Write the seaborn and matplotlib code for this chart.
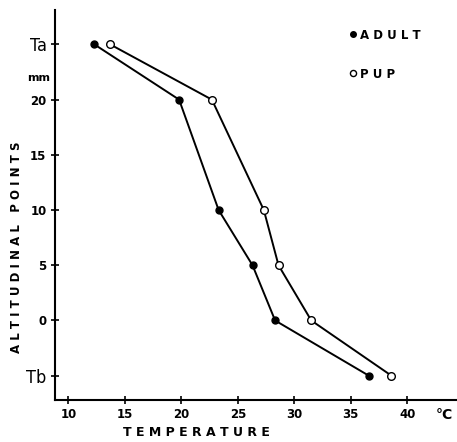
import matplotlib
matplotlib.use('Agg')
import matplotlib.pyplot as plt
import pandas as pd
import seaborn as sns

# altitudinal points (Ta = 25, Tb = -5 on the numeric scale)
altitude = [25, 20, 10, 5, 0, -5]
adult_temp = [12.3, 19.8, 23.3, 26.3, 28.3, 36.6]
pup_temp = [13.7, 22.7, 27.3, 28.6, 31.5, 38.6]

y_ticks = [25, 20, 15, 10, 5, 0, -5]
y_labels = ['Ta', '20', '15', '10', '5', '0', 'Tb']
x_ticks = [10, 15, 20, 25, 30, 35, 40]

adult = pd.DataFrame({'temp': adult_temp, 'alt': altitude})
pup = pd.DataFrame({'temp': pup_temp, 'alt': altitude})

sns.set_style('white')
plt.rcParams['font.family'] = ['DejaVu Sans']
plt.rcParams['text.color'] = 'black'
plt.rcParams['xtick.color'] = 'black'
plt.rcParams['ytick.color'] = 'black'

fig = plt.figure(figsize=(4.57, 4.42), dpi=100)
ax = fig.add_axes([0.12, 0.095, 0.88, 0.882])

sns.lineplot(data=adult, x='temp', y='alt', ax=ax, color='black', linewidth=1.4,
             marker='o', markersize=5, markerfacecolor='black',
             markeredgecolor='black', markeredgewidth=1, label='A D U L T')
sns.lineplot(data=pup, x='temp', y='alt', ax=ax, color='black', linewidth=1.4,
             marker='o', markersize=5.5, markerfacecolor='white',
             markeredgecolor='black', markeredgewidth=1, label='P U P')

ax.set_xlim(8.8, 44.4)
ax.set_ylim(-7.2, 28.1)
ax.set_xticks(x_ticks)
ax.set_yticks(y_ticks)
ax.set_yticklabels(y_labels)
for lab in ax.get_xticklabels() + ax.get_yticklabels():
    lab.set_fontweight('bold')
    lab.set_fontsize(8.5)
    lab.set_color('black')
for lab in ax.get_yticklabels():
    if lab.get_text() in ('Ta', 'Tb'):
        lab.set_fontsize(13)
        lab.set_fontweight('normal')
        lab.set_fontstretch('condensed')

ax.tick_params(axis='both', bottom=True, left=True, direction='inout',
               length=6, width=1.2, color='black', pad=3)
sns.despine(ax=ax)
for sp in ('left', 'bottom'):
    ax.spines[sp].set_color('black')
    ax.spines[sp].set_linewidth(1.5)

ax.set_xlabel('')
ax.set_ylabel('')
fig.text(0.037, 0.44, 'A L T I T U D I N A L   P O I N T S', rotation=90,
         ha='center', va='center', fontsize=8.5, fontweight='bold')
fig.text(0.43, 0.022, 'T E M P E R A T U R E', ha='center', va='center',
         fontsize=9, fontweight='bold')
ax.text(-0.012, 22.0, 'mm', transform=ax.get_yaxis_transform(), ha='right',
        va='center', fontsize=8, fontweight='bold')
ax.text(43.3, -7.9, '°C', ha='center', va='top', fontsize=10,
        fontweight='bold', clip_on=False)

leg = ax.legend(loc='upper left', bbox_to_anchor=(0.71, 0.985), frameon=False,
                handlelength=0, handletextpad=0.5, labelspacing=1.9,
                markerscale=0.8)
for t in leg.get_texts():
    t.set_fontweight('bold')
    t.set_fontsize(8.5)
    t.set_color('black')

fig.savefig('out.png', dpi=100)
